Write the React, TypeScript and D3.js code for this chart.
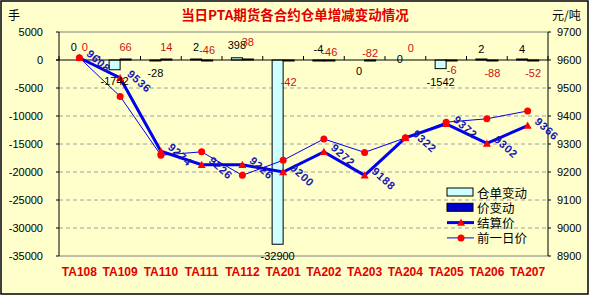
import React from "react";
import * as d3 from "d3";

const categories = ["TA108","TA109","TA110","TA111","TA112","TA201","TA202","TA203","TA204","TA205","TA206","TA207"];
const warehouseChange = [0, -1742, -28, 2, 398, -32900, -4, 0, 0, -1542, 2, 4];
const priceChange = [0, 66, 14, -46, 38, -42, -46, -82, 0, -6, -88, -52];
const settlePrice = [9608, 9536, 9274, 9226, 9226, 9200, 9272, 9188, 9322, 9372, 9302, 9366];
const prevPrice = [9608, 9470, 9260, 9272, 9188, 9242, 9318, 9270, 9322, 9378, 9390, 9418];
const leftTicks = [5000, 0, -5000, -10000, -15000, -20000, -25000, -30000, -35000];
const rightTicks = [9700, 9600, 9500, 9400, 9300, 9200, 9100, 9000, 8900];
// label nudges (vertical offsets of the value labels)
const warehouseLabelDy = [-13, 11, 12, -12, -13, 12, -12, 11, -1, 13, -10, -10];
const priceLabelDy = [-13, -13, -13, -10, -18, 22, -8, -7, -12, 10, 13, 13];
const legendItems = ["仓单变动", "价变动", "结算价", "前一日价"];

const W = 591, H = 297;
const L = 59, R = 548, T = 32, B = 256;
const BG = "#FFFFCC";
const BLUE = "#0000F0";
const LABEL_BLUE = "#1818B0";
const RED = "#FF0000";
const DARKRED = "#CC1010";
const FONT = "'Liberation Sans', Arial, sans-serif";
const CJK = "'Noto Sans CJK SC', sans-serif";

export default function App() {
  const x = d3.scaleBand<string>().domain(categories).range([L, R]).padding(0);
  const yl = d3.scaleLinear().domain([-35000, 5000]).range([B, T]);
  const yr = d3.scaleLinear().domain([8900, 9700]).range([B, T]);
  const cx = (i: number) => (x(categories[i]) as number) + x.bandwidth() / 2;
  const bw = 11;
  const y0 = yl(0);

  const lineS = d3.line<number>().x((_, i) => cx(i)).y((d) => yr(d));

  const barRect = (v: number) => {
    const yv = yl(v);
    let top = Math.min(yv, y0);
    let h = Math.abs(yv - y0);
    if (h < 1) { h = 1; if (v < 0) top = y0; else top = y0 - 1; }
    return { top, h };
  };

  const tri = (px: number, py: number, s = 4) =>
    `M${px},${py - s} L${px + s},${py + s * 0.8} L${px - s},${py + s * 0.8} Z`;

  return (
    <div style={{ position: "fixed", left: 0, top: 0 }}>
      <svg width={W} height={H} style={{ display: "block" }}>
        <rect x={0} y={0} width={W} height={H} fill="#FFFFFF" />
        <rect x={1} y={1} width={587} height={293} fill={BG} stroke="#000" strokeWidth={1.5} />
        <text x={295} y={20} textAnchor="middle" fill="#E00000" fontFamily={CJK} fontWeight="bold" fontSize={13.5}>
          当日PTA期货各合约仓单增减变动情况
        </text>
        <text x={8} y={20} fontFamily={CJK} fontSize={12} fill="#000">手</text>
        <text x={552} y={20} fontFamily={CJK} fontSize={12} fill="#000">元/吨</text>

        {/* grid */}
        {leftTicks.filter((t) => t !== 0 && t !== 5000 && t !== -35000).map((t) => (
          <line key={t} x1={L} x2={R} y1={yl(t)} y2={yl(t)} stroke="#A0A0A0" strokeDasharray="4,3" />
        ))}
        <line x1={L} x2={R} y1={T} y2={T} stroke="#808080" />
        <line x1={L} x2={R} y1={B} y2={B} stroke="#808080" />

        {/* bars */}
        {warehouseChange.map((v, i) => {
          if (v === 0) return null;
          const { top, h } = barRect(v);
          return <rect key={"w" + i} x={cx(i) - bw} y={top} width={bw} height={h} fill="#CCFFFF" stroke="#000" strokeWidth={1} />;
        })}
        {priceChange.map((v, i) => {
          if (v === 0) return null;
          const { top, h } = barRect(v);
          return <rect key={"p" + i} x={cx(i)} y={top} width={bw} height={h} fill="#0000CC" stroke="#000" strokeWidth={1} />;
        })}

        {/* zero axis */}
        <line x1={L - 3} x2={R} y1={y0} y2={y0} stroke="#000" />
        {d3.range(categories.length + 1).map((k) => {
          const xx = L + k * x.bandwidth();
          return <line key={"xt" + k} x1={xx} x2={xx} y1={y0} y2={y0 - 4} stroke="#000" />;
        })}

        {/* axes */}
        <line x1={L} x2={L} y1={T} y2={B} stroke="#000" />
        <line x1={R} x2={R} y1={T} y2={B} stroke="#000" />
        {leftTicks.map((t) => (
          <g key={"lt" + t}>
            <line x1={L - 3} x2={L} y1={yl(t)} y2={yl(t)} stroke="#000" />
            <text x={43} y={yl(t) + 4} textAnchor="end" fontFamily={FONT} fontSize={11} fill="#000">{t}</text>
          </g>
        ))}
        {rightTicks.map((t) => (
          <g key={"rt" + t}>
            <line x1={R} x2={R + 3} y1={yr(t)} y2={yr(t)} stroke="#000" />
            <text x={557} y={yr(t) + 4} fontFamily={FONT} fontSize={11} fill="#000">{t}</text>
          </g>
        ))}

        {/* lines */}
        <path d={lineS(prevPrice) || ""} fill="none" stroke={BLUE} strokeWidth={1} />
        <path d={lineS(settlePrice) || ""} fill="none" stroke={BLUE} strokeWidth={3} />
        {prevPrice.map((v, i) => (
          <circle key={"pc" + i} cx={cx(i)} cy={yr(v)} r={3.5} fill={RED} />
        ))}
        {settlePrice.map((v, i) => (
          <path key={"st" + i} d={tri(cx(i), yr(v))} fill={RED} />
        ))}

        {/* settle labels */}
        {settlePrice.map((v, i) => {
          const px = cx(i) + 9, py = yr(v) - 6;
          return (
            <text key={"sl" + i} x={px} y={py} transform={`rotate(42 ${px} ${py})`} dominantBaseline="central"
              fontFamily={FONT} fontWeight="bold" fontSize={11} letterSpacing={0.8} fill={LABEL_BLUE}>{v}</text>
          );
        })}

        {/* bar labels */}
        {warehouseChange.map((v, i) => {
          const end = v === 0 ? y0 : barRect(v).top + (v < 0 ? barRect(v).h : 0);
          return (
            <text key={"wl" + i} x={cx(i) - bw / 2} y={end + warehouseLabelDy[i]} dominantBaseline="central" textAnchor="middle"
              fontFamily={FONT} fontSize={11} fill="#000">{v}</text>
          );
        })}
        {priceChange.map((v, i) => (
          <text key={"pl" + i} x={cx(i) + bw / 2} y={y0 + priceLabelDy[i]} dominantBaseline="central" textAnchor="middle"
            fontFamily={FONT} fontSize={11} fill={DARKRED}>{v}</text>
        ))}

        {/* x labels */}
        {categories.map((c, i) => (
          <text key={c} x={cx(i)} y={276} textAnchor="middle" fontFamily={FONT} fontWeight="bold" fontSize={12} fill="#E00000">{c}</text>
        ))}

        {/* legend */}
        {legendItems.map((name, k) => {
          const ly = 192 + k * 15.3;
          return (
            <g key={name}>
              {k === 0 && <rect x={447} y={ly - 4} width={26} height={8} fill="#CCFFFF" stroke="#000" />}
              {k === 1 && <rect x={447} y={ly - 4} width={26} height={8} fill="#0000CC" stroke="#000" />}
              {k === 2 && (
                <g>
                  <line x1={447} x2={474} y1={ly} y2={ly} stroke={BLUE} strokeWidth={3} />
                  <path d={tri(461, ly)} fill={RED} />
                </g>
              )}
              {k === 3 && (
                <g>
                  <line x1={447} x2={474} y1={ly} y2={ly} stroke={BLUE} strokeWidth={1} />
                  <circle cx={461} cy={ly} r={3.5} fill={RED} />
                </g>
              )}
              <text x={477} y={ly} dominantBaseline="central" fontFamily={CJK} fontSize={12.5} fill="#000">{name}</text>
            </g>
          );
        })}
      </svg>
    </div>
  );
}
